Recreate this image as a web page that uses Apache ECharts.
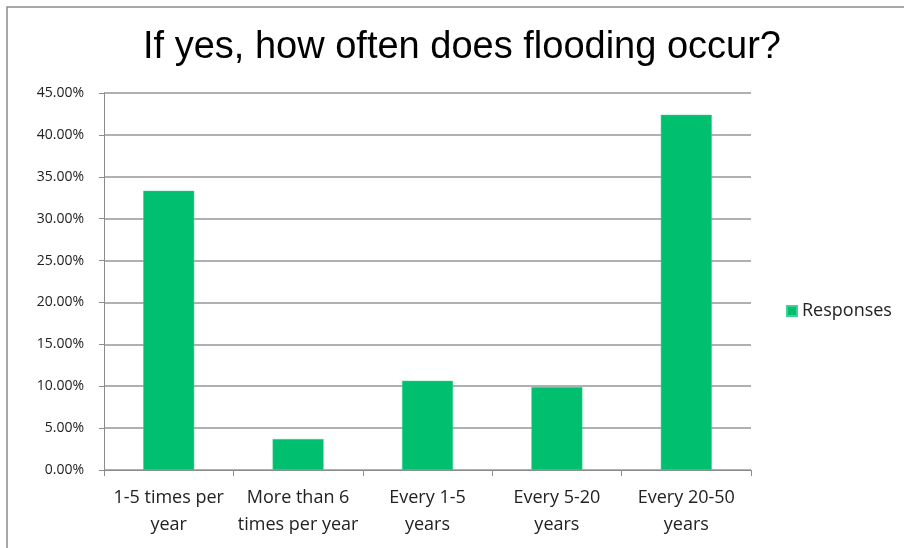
<!DOCTYPE html>
<html>
<head>
<meta charset="utf-8">
<script src="https://cdn.jsdelivr.net/npm/echarts@6/dist/echarts.min.js"></script>
<style>
html,body{margin:0;padding:0;background:#fff;}
#chart{width:904px;height:548px;}
</style>
</head>
<body>
<div id="chart"></div>
<script>
const titleText = "If yes, how often does flooding occur?";
const categories = ["1-5 times per\nyear", "More than 6\ntimes per year", "Every 1-5\nyears", "Every 5-20\nyears", "Every 20-50\nyears"];
const seriesName = "Responses";
const responses = [33.33, 3.70, 10.65, 9.90, 42.40];
const yTicks = [0, 5, 10, 15, 20, 25, 30, 35, 40, 45];

const chart = echarts.init(document.getElementById('chart'), null, {renderer: 'canvas'});
chart.setOption({
  animation: false,
  backgroundColor: '#fff',
  graphic: [{
    type: 'rect',
    shape: {x: 7, y: 7, width: 1000, height: 1000},
    style: {fill: 'none', stroke: '#8c8c8c', lineWidth: 1.5},
    silent: true
  }],
  title: {
    text: titleText,
    left: 457,
    textAlign: 'center',
    top: 24,
    textStyle: {fontFamily: 'Liberation Sans', fontSize: 38, fontWeight: 'normal', color: '#000'}
  },
  legend: {
    data: [seriesName],
    left: 781,
    top: 297,
    itemWidth: 10,
    itemHeight: 10,
    itemGap: 6,
    icon: 'rect',
    textStyle: {fontFamily: 'Open Sans', fontSize: 18, color: '#222'}
  },
  grid: {left: 104, right: 153, top: 93, bottom: 78, containLabel: false},
  xAxis: {
    type: 'category',
    data: categories,
    axisLine: {lineStyle: {color: '#8c8c8c', width: 1}},
    axisTick: {show: true, length: 6, alignWithLabel: false, lineStyle: {color: '#8c8c8c'}},
    axisLabel: {fontFamily: 'Open Sans', fontSize: 18, color: '#222', margin: 14, lineHeight: 27, interval: 0}
  },
  yAxis: {
    type: 'value',
    min: 0,
    max: 45,
    interval: 5,
    axisLine: {show: true, lineStyle: {color: '#8c8c8c', width: 1}},
    axisTick: {show: true, length: 5, lineStyle: {color: '#8c8c8c'}},
    splitLine: {lineStyle: {color: '#969696', width: 1.5}},
    axisLabel: {
      fontFamily: 'Open Sans', fontSize: 14, color: '#222', margin: 20,
      formatter: v => yTicks.includes(v) ? v.toFixed(2) + '%' : ''
    }
  },
  series: [{
    name: seriesName,
    type: 'bar',
    data: responses,
    barWidth: 51,
    itemStyle: {color: '#00BF6F', borderColor: '#40d090', borderWidth: 0.5}
  }]
});
</script>
</body>
</html>
